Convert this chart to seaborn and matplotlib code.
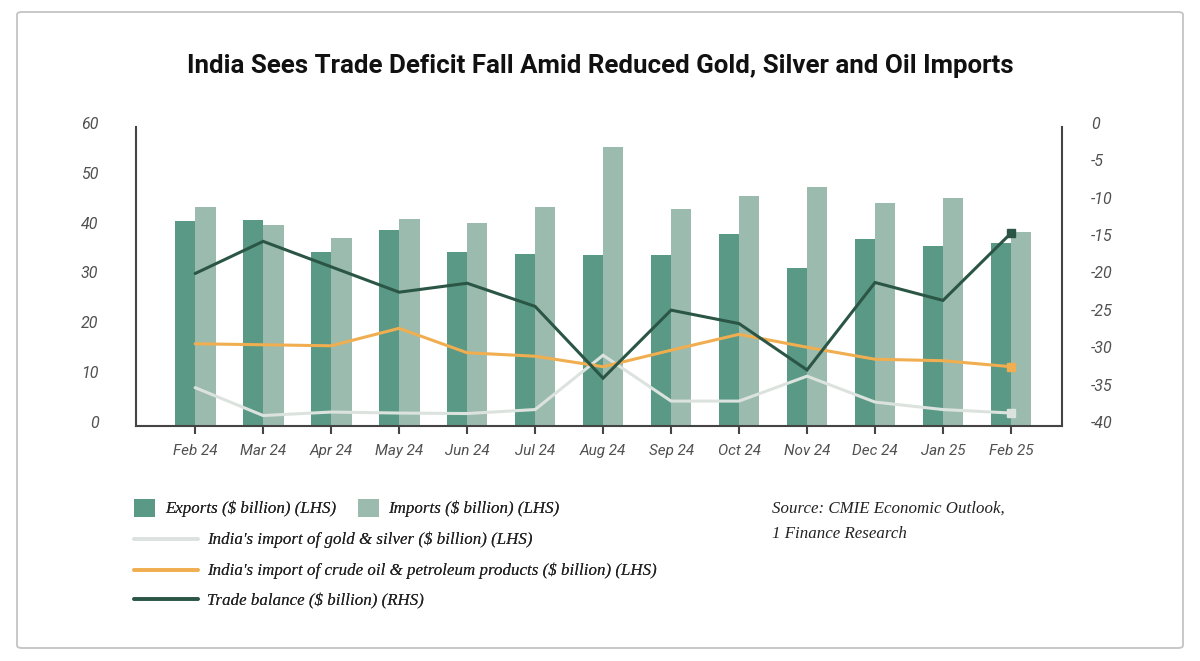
import numpy as np
import pandas as pd
import matplotlib
matplotlib.use("Agg")
import matplotlib.pyplot as plt
import matplotlib.transforms as mtransforms
from matplotlib.patches import Patch, FancyBboxPatch
from matplotlib.lines import Line2D
import seaborn as sns

# ---------------- data ----------------
months = ["Feb 24", "Mar 24", "Apr 24", "May 24", "Jun 24", "Jul 24", "Aug 24",
          "Sep 24", "Oct 24", "Nov 24", "Dec 24", "Jan 25", "Feb 25"]
exports = [41.1, 41.4, 35.0, 39.3, 35.0, 34.5, 34.3, 34.3, 38.5, 31.7, 37.5, 36.1, 36.8]
imports = [43.9, 40.3, 37.8, 41.5, 40.7, 43.9, 55.9, 43.6, 46.1, 47.9, 44.7, 45.7, 38.9]
gold_silver = [7.7, 2.1, 2.8, 2.6, 2.5, 3.3, 14.2, 5.0, 5.0, 10.0, 4.8, 3.3, 2.6]
crude_oil = [16.5, 16.3, 16.1, 19.6, 14.7, 14.0, 11.9, 15.2, 18.4, 15.8, 13.4, 13.1, 11.9]
trade_balance = [-19.6, -15.3, -18.7, -22.1, -20.9, -24.0, -33.6, -24.5, -26.3, -32.5,
                 -20.8, -23.2, -14.2]
left_ticks = [0, 10, 20, 30, 40, 50, 60]
right_ticks = [0, -5, -10, -15, -20, -25, -30, -35, -40]

lbl_exp = "Exports ($ billion) (LHS)"
lbl_imp = "Imports ($ billion) (LHS)"
lbl_gold = "India's import of gold & silver ($ billion) (LHS)"
lbl_oil = "India's import of crude oil & petroleum products ($ billion) (LHS)"
lbl_tb = "Trade balance ($ billion) (RHS)"
title = "India Sees Trade Deficit Fall Amid Reduced Gold, Silver and Oil Imports"
source = "Source: CMIE Economic Outlook,\n1 Finance Research"

# ---------------- style ----------------
c_exp = "#5a9986"
c_imp = "#9bbbae"
c_gold = "#dce3df"
c_oil = "#f0ae50"
c_tb = "#2b5646"
c_axis = "#444444"

sns.set_theme(style="white")
plt.rcParams["font.family"] = ["Roboto", "DejaVu Sans"]
plt.rcParams["axes.unicode_minus"] = False

W, H = 1200, 661
fig = plt.figure(figsize=(W / 100, H / 100), dpi=100)
fig.patch.set_facecolor("white")

def fx(px):
    return px / W

def fy(py):
    return 1 - py / H

ax = fig.add_axes([fx(136), fy(426), fx(1062) - fx(136), fy(127) - fy(426)])

df = pd.DataFrame({
    "month": months * 2,
    "value": exports + imports,
    "series": [lbl_exp] * len(months) + [lbl_imp] * len(months),
})
sns.barplot(data=df, x="month", y="value", hue="series", order=months,
            hue_order=[lbl_exp, lbl_imp], palette=[c_exp, c_imp], saturation=1,
            width=0.6, gap=0, errorbar=None, legend=False, ax=ax, linewidth=0)

x = np.arange(len(months))
ax.plot(x, gold_silver, color=c_gold, lw=2.2, marker="s", markevery=[len(months) - 1],
        ms=6, zorder=3, solid_joinstyle="miter")
ax.plot(x, crude_oil, color=c_oil, lw=2.2, marker="s", markevery=[len(months) - 1],
        ms=6, zorder=3, solid_joinstyle="miter")

ax.set_xlim(-0.87, len(months) - 1 + 0.75)
ax.set_ylim(0, 60)
ax.set_yticks(left_ticks)
ax.set_xlabel("")
ax.set_ylabel("")

ax2 = ax.twinx()
ax2.plot(x, trade_balance, color=c_tb, lw=2.2, marker="s", markevery=[len(months) - 1],
         ms=6, zorder=4, solid_joinstyle="miter")
ax2.set_ylim(-40, 0)
ax2.set_yticks(right_ticks)
ax2.set_yticklabels([str(v) for v in right_ticks])

for a in (ax, ax2):
    a.set_facecolor("none")
    for s in a.spines.values():
        s.set_visible(False)
ax.spines["left"].set_visible(True)
ax.spines["bottom"].set_visible(True)
ax2.spines["right"].set_visible(True)
for s in (ax.spines["left"], ax.spines["bottom"], ax2.spines["right"]):
    s.set_color(c_axis)
    s.set_linewidth(1.5)

ax.tick_params(axis="x", bottom=True, length=6, width=1.5, color=c_axis, pad=7,
               labelsize=11, labelcolor="#505050")
ax.tick_params(axis="y", left=False, length=0, pad=27, labelsize=11.5, labelcolor="#505050")
ax2.tick_params(axis="y", right=False, length=0, pad=21, labelsize=11.5, labelcolor="#505050")
for lab in ax.get_xticklabels() + ax.get_yticklabels() + ax2.get_yticklabels():
    lab.set_fontstyle("italic")
    lab.set_fontweight("normal")

shift = mtransforms.ScaledTranslation(0, 0.04, fig.dpi_scale_trans)
for lab in ax.get_yticklabels() + ax2.get_yticklabels():
    lab.set_transform(lab.get_transform() + shift)
for lab in ax2.get_yticklabels():
    lab.set_horizontalalignment("left")

# ---------------- title ----------------
fig.text(0.5, fy(66), title, ha="center", va="center", fontsize=18.6,
         fontweight="bold", color="#111111", family=["Roboto", "DejaVu Sans"])

# ---------------- legend ----------------
leg_size = 12.2
leg_font = dict(family=["Liberation Serif", "DejaVu Serif"], style="italic", size=leg_size)
fs_px = leg_size * 100 / 72

def add_leg(handle, label, x_px, y_px, hl_px, hh_px, pad_px):
    lg = fig.legend([handle], [label], loc="center left",
                    bbox_to_anchor=(fx(x_px), fy(y_px)), bbox_transform=fig.transFigure,
                    frameon=False, borderpad=0, borderaxespad=0,
                    handlelength=hl_px / fs_px, handleheight=hh_px / fs_px,
                    handletextpad=pad_px / fs_px, prop=leg_font, labelcolor="#222222")
    fig.add_artist(lg)
    return lg

add_leg(Patch(facecolor=c_exp, edgecolor="none"), lbl_exp, 134, 508, 21, 22, 10)
add_leg(Patch(facecolor=c_imp, edgecolor="none"), lbl_imp, 358, 508, 21, 22, 9)
add_leg(Line2D([], [], color=c_gold, lw=2.6), lbl_gold, 134, 540, 64, 10, 9)
add_leg(Line2D([], [], color=c_oil, lw=2.6), lbl_oil, 134, 571, 64, 10, 9)
add_leg(Line2D([], [], color=c_tb, lw=2.6), lbl_tb, 134, 601, 64, 10, 9)

fig.text(fx(772), fy(501), source, ha="left", va="top", color="#222222",
         linespacing=1.75, **leg_font)

# ---------------- border ----------------
border = FancyBboxPatch((fx(17), fy(648)), fx(1183) - fx(17), fy(12) - fy(648),
                        boxstyle="round,pad=0,rounding_size=0.004",
                        transform=fig.transFigure, facecolor="none",
                        edgecolor="#c4c4c4", linewidth=1.3, zorder=-1)
fig.add_artist(border)

fig.savefig("out.png", dpi=100, facecolor="white")
